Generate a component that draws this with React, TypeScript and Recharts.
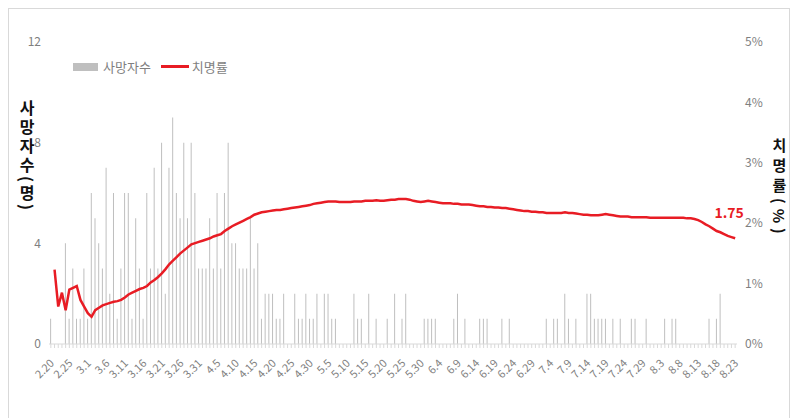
import React from 'react';
import { ComposedChart, Bar, Line, XAxis, YAxis, LabelList } from 'recharts';

// month, first day, last day
const monthRanges: [number, number, number][] = [
  [2, 20, 29], [3, 1, 31], [4, 1, 30], [5, 1, 31], [6, 1, 30], [7, 1, 31], [8, 1, 23],
];
const dates: string[] = monthRanges.flatMap(([m, a, b]) =>
  Array.from({ length: b - a + 1 }, (_, k) => `${m}.${a + k}`)
);

// daily deaths (사망자수)
const deaths: number[] = [
  1, 0, 0, 0, 4, 1, 3, 1, 1, 3,
  1, 6, 5, 4, 3, 7, 2, 6, 1, 3,
  6, 6, 1, 5, 3, 1, 6, 3, 7, 3,
  8, 2, 7, 9, 6, 5, 8, 5, 8, 6,
  3, 3, 3, 5, 3, 6, 3, 6, 8, 4,
  4, 3, 3, 3, 5, 3, 4, 1, 2, 2,
  2, 1, 1, 2, 0, 0, 2, 1, 1, 2,
  1, 1, 2, 0, 2, 2, 1, 1, 0, 0,
  0, 0, 2, 1, 1, 0, 2, 0, 1, 0,
  0, 1, 0, 2, 0, 1, 2, 0, 0, 0,
  0, 1, 1, 1, 1, 0, 0, 0, 0, 1,
  2, 0, 1, 0, 0, 0, 1, 1, 1, 0,
  0, 0, 1, 0, 1, 0, 0, 0, 0, 0,
  0, 0, 0, 0, 1, 0, 1, 1, 0, 2,
  1, 0, 1, 0, 0, 2, 2, 1, 1, 1,
  1, 0, 1, 0, 1, 0, 0, 1, 1, 0,
  0, 1, 0, 0, 0, 0, 1, 0, 1, 1,
  0, 0, 0, 0, 0, 0, 0, 0, 1, 0,
  1, 2, 0, 0, 0, 0,
];

// case fatality rate % (치명률)
const rate: (number | null)[] = [
  null, 1.23, 0.62, 0.85, 0.56, 0.90, 0.93, 0.96, 0.73, 0.62,
  0.51, 0.45, 0.56, 0.60, 0.64, 0.66, 0.68, 0.70, 0.71, 0.73,
  0.77, 0.82, 0.85, 0.88, 0.91, 0.93, 0.96, 1.02, 1.06, 1.11,
  1.17, 1.24, 1.32, 1.38, 1.44, 1.50, 1.55, 1.60, 1.65, 1.67,
  1.69, 1.71, 1.73, 1.75, 1.78, 1.80, 1.82, 1.87, 1.91, 1.95,
  1.98, 2.01, 2.04, 2.07, 2.10, 2.14, 2.16, 2.18, 2.19, 2.20,
  2.21, 2.22, 2.22, 2.23, 2.24, 2.25, 2.26, 2.27, 2.28, 2.29,
  2.30, 2.32, 2.33, 2.34, 2.35, 2.36, 2.36, 2.36, 2.35, 2.35,
  2.35, 2.35, 2.36, 2.36, 2.36, 2.37, 2.37, 2.37, 2.38, 2.37,
  2.37, 2.38, 2.39, 2.39, 2.40, 2.40, 2.40, 2.39, 2.37, 2.36,
  2.35, 2.36, 2.37, 2.36, 2.35, 2.34, 2.33, 2.33, 2.33, 2.32,
  2.32, 2.31, 2.31, 2.31, 2.30, 2.29, 2.28, 2.28, 2.27, 2.27,
  2.26, 2.26, 2.25, 2.25, 2.24, 2.23, 2.22, 2.21, 2.20, 2.20,
  2.19, 2.19, 2.18, 2.18, 2.17, 2.17, 2.17, 2.17, 2.17, 2.18,
  2.17, 2.17, 2.16, 2.15, 2.14, 2.14, 2.13, 2.13, 2.13, 2.14,
  2.15, 2.14, 2.13, 2.12, 2.11, 2.11, 2.11, 2.10, 2.10, 2.10,
  2.10, 2.10, 2.09, 2.09, 2.09, 2.09, 2.09, 2.09, 2.09, 2.09,
  2.09, 2.09, 2.08, 2.08, 2.07, 2.05, 2.02, 1.98, 1.95, 1.91,
  1.87, 1.85, 1.82, 1.79, 1.77, 1.75,
];

const leftTicks = [0, 4, 8, 12];
const rightTicks = [0, 1, 2, 3, 4, 5];

const data = dates.map((d, i) => ({ date: d, deaths: deaths[i], rate: rate[i] }));

const FONT = '"Noto Sans CJK KR", "Noto Sans", sans-serif';
const GRAY = '#7F7F7F';

const XTick = (props: any) => {
  const { x, y, payload } = props;
  if (payload.index % 5 !== 0) return <g />;
  return (
    <g transform={`translate(${x + 4},${y + 16})`}>
      <text
        x={0}
        y={0}
        textAnchor="end"
        transform="rotate(-45)"
        fill={GRAY}
        fontSize={11}
        fontFamily={FONT}
      >
        {payload.value}
      </text>
    </g>
  );
};

const EndLabel = (props: any) => {
  const { x, y, index, value } = props;
  if (index !== dates.length - 1 || value == null) return null;
  return (
    <text
      x={x - 6}
      y={y - 20}
      textAnchor="middle"
      fill="#E81C24"
      fontSize={14}
      fontWeight="bold"
      fontFamily={FONT}
    >
      {value.toFixed(2)}
    </text>
  );
};

export default function App() {
  return (
    <div style={{ position: 'relative', width: 782, height: 410, fontFamily: FONT, background: '#fff' }}>
      <ComposedChart
        width={782}
        height={410}
        data={data}
        margin={{ top: 34, right: 0, bottom: 0, left: 0 }}
        barCategoryGap="30%"
      >
        <XAxis
          dataKey="date"
          interval={0}
          tick={<XTick />}
          tickSize={4}
          tickMargin={0}
          height={74}
          axisLine={{ stroke: '#D9D9D9' }}
          tickLine={{ stroke: '#D9D9D9' }}
        />
        <YAxis
          yAxisId="left"
          domain={[0, 12]}
          ticks={leftTicks}
          width={41}
          axisLine={false}
          tickLine={false}
          tick={{ fill: GRAY, fontSize: 12, fontFamily: FONT }}
        />
        <YAxis
          yAxisId="right"
          orientation="right"
          domain={[0, 5]}
          ticks={rightTicks}
          width={53}
          axisLine={false}
          tickLine={false}
          tickFormatter={(v: number) => `${v}%`}
          tick={{ fill: GRAY, fontSize: 12, fontFamily: FONT }}
        />
        <Bar yAxisId="left" dataKey="deaths" fill="#BFBFBF" isAnimationActive={false} />
        <Line
          yAxisId="right"
          dataKey="rate"
          stroke="#E81C24"
          strokeWidth={2.5}
          dot={false}
          type="linear"
          isAnimationActive={false}
        >
          <LabelList dataKey="rate" content={<EndLabel />} />
        </Line>
      </ComposedChart>

      {/* legend */}
      <div style={{ position: 'absolute', left: 65, top: 49, display: 'flex', alignItems: 'center', fontSize: 13, color: GRAY }}>
        <span style={{ display: 'inline-block', width: 25, height: 8, background: '#BFBFBF', marginRight: 5 }} />
        <span>사망자수</span>
        <span style={{ display: 'inline-block', width: 28, height: 3, background: '#E81C24', marginLeft: 10, marginRight: 3 }} />
        <span>치명률</span>
      </div>

      {/* axis titles */}
      <div
        style={{
          position: 'absolute', left: 7, top: 92, writingMode: 'vertical-rl', textOrientation: 'mixed',
          fontSize: 16, fontWeight: 'bold', letterSpacing: 3, color: '#111',
        }}
      >
        사망자수(명)
      </div>
      <div
        style={{
          position: 'absolute', left: 761, top: 130, writingMode: 'vertical-rl', textOrientation: 'mixed',
          fontSize: 15, fontWeight: 'bold', letterSpacing: 5, color: '#111',
        }}
      >
        치명률(%)
      </div>

      {/* outer frame */}
      <div style={{ position: 'absolute', left: 0, top: 0, width: 782, height: 420, border: '1px solid #D9D9D9', boxSizing: 'border-box', pointerEvents: 'none' }} />
    </div>
  );
}
